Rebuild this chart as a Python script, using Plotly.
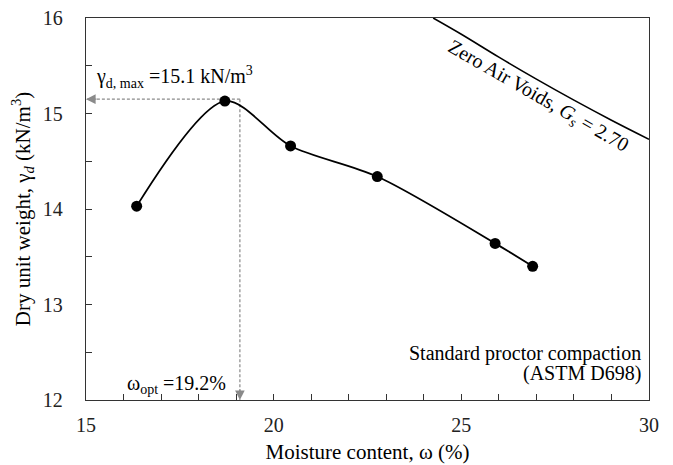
import plotly.graph_objects as go

# Data
moisture = [16.35, 18.70, 20.45, 22.76, 25.90, 26.90]
dry_unit_weight = [14.03, 15.13, 14.66, 14.34, 13.64, 13.40]

zav_moisture = [24.25, 25.0, 26.0, 27.0, 28.0, 29.0, 30.0]
zav_weight = [16.00, 15.83, 15.59, 15.36, 15.14, 14.93, 14.73]

w_opt = 19.1
gamma_max = 15.15

FONT = "Liberation Serif, Times New Roman, serif"
GRAY = "#8a8a8a"
AXIS = "#333333"

fig = go.Figure()

# Zero air voids curve
fig.add_trace(go.Scatter(x=zav_moisture, y=zav_weight, mode="lines",
                         line=dict(color="black", width=1.6, shape="spline"),
                         showlegend=False, hoverinfo="skip"))

# Dashed guide lines
fig.add_trace(go.Scatter(x=[w_opt, 15], y=[gamma_max, gamma_max], mode="lines",
                         line=dict(color=GRAY, width=1.2, dash="3px,2px"),
                         showlegend=False, hoverinfo="skip"))
fig.add_trace(go.Scatter(x=[w_opt, w_opt], y=[gamma_max, 12], mode="lines",
                         line=dict(color=GRAY, width=1.2, dash="3px,2px"),
                         showlegend=False, hoverinfo="skip"))

# Compaction curve
fig.add_trace(go.Scatter(x=moisture, y=dry_unit_weight, mode="lines+markers",
                         line=dict(color="black", width=1.8, shape="spline", smoothing=0.85),
                         marker=dict(color="black", size=11),
                         showlegend=False))

annotations = [
    # arrowheads
    dict(x=15, y=gamma_max, xref="x", yref="y", ax=12, ay=0, text="",
         showarrow=True, arrowhead=2, arrowsize=1.6, arrowwidth=1.2,
         arrowcolor=GRAY, standoff=0),
    dict(x=w_opt, y=12, xref="x", yref="y", ax=0, ay=-12, text="",
         showarrow=True, arrowhead=2, arrowsize=1.6, arrowwidth=1.2,
         arrowcolor=GRAY, standoff=0),
    dict(x=15.2, y=15.38, xref="x", yref="y", xanchor="left", yanchor="middle",
         text="γ<sub>d, max</sub> =15.1 kN/m<sup>3</sup>", showarrow=False,
         font=dict(family=FONT, size=20, color="black")),
    dict(x=18.78, y=12.16, xref="x", yref="y", xanchor="right", yanchor="middle",
         text="ω<sub>opt</sub> =19.2%", showarrow=False,
         font=dict(family=FONT, size=20, color="black")),
    dict(x=29.85, y=12.49, xref="x", yref="y", xanchor="right", yanchor="middle",
         text="Standard proctor compaction", showarrow=False,
         font=dict(family=FONT, size=20, color="black")),
    dict(x=29.85, y=12.28, xref="x", yref="y", xanchor="right", yanchor="middle",
         text="(ASTM D698)", showarrow=False,
         font=dict(family=FONT, size=20, color="black")),
    dict(x=27.04, y=15.18, xref="x", yref="y", xanchor="center", yanchor="middle",
         text="Zero Air Voids, <i>G<sub>s</sub></i> = 2.70", showarrow=False,
         textangle=29.8,
         font=dict(family=FONT, size=20, color="black")),
]

# The page body has an 8px default margin; the figure is sized to fit the window.
fig.update_layout(
    width=665, height=457,
    margin=dict(l=78, r=24, t=10, b=65),
    paper_bgcolor="white", plot_bgcolor="white",
    font=dict(family=FONT, size=20, color="black"),
    annotations=annotations,
    showlegend=False,
)

fig.update_xaxes(
    range=[15, 30], tickmode="linear", tick0=15, dtick=5,
    ticks="inside", ticklen=6, tickwidth=1.2, tickcolor=AXIS,
    minor=dict(tickmode="linear", tick0=15, dtick=1, ticks="inside", ticklen=6,
               tickwidth=1.2, tickcolor=AXIS, showgrid=False),
    showgrid=False, zeroline=False, automargin=False,
    showline=True, linecolor=AXIS, linewidth=1.4, mirror=True,
    tickfont=dict(family=FONT, size=20, color="#222"),
    ticklabelstandoff=7, ticklabeloverflow="allow",
    title=dict(text="Moisture content, ω (%)", standoff=9,
               font=dict(family=FONT, size=21, color="black")),
)
fig.update_yaxes(
    range=[12, 16], tickmode="linear", tick0=12, dtick=1,
    ticks="inside", ticklen=6, tickwidth=1.2, tickcolor=AXIS,
    minor=dict(tickmode="linear", tick0=12, dtick=0.5, ticks="inside", ticklen=6,
               tickwidth=1.2, tickcolor=AXIS, showgrid=False),
    showgrid=False, zeroline=False, automargin=False,
    showline=True, linecolor=AXIS, linewidth=1.4, mirror=True,
    tickfont=dict(family=FONT, size=20, color="#222"),
    ticklabelstandoff=18, ticklabeloverflow="allow",
    title=dict(text="Dry unit weight, γ<sub><i>d</i></sub> (kN/m<sup>3</sup>)", standoff=8,
               font=dict(family=FONT, size=21, color="black")),
)

fig.write_html("out.html")
